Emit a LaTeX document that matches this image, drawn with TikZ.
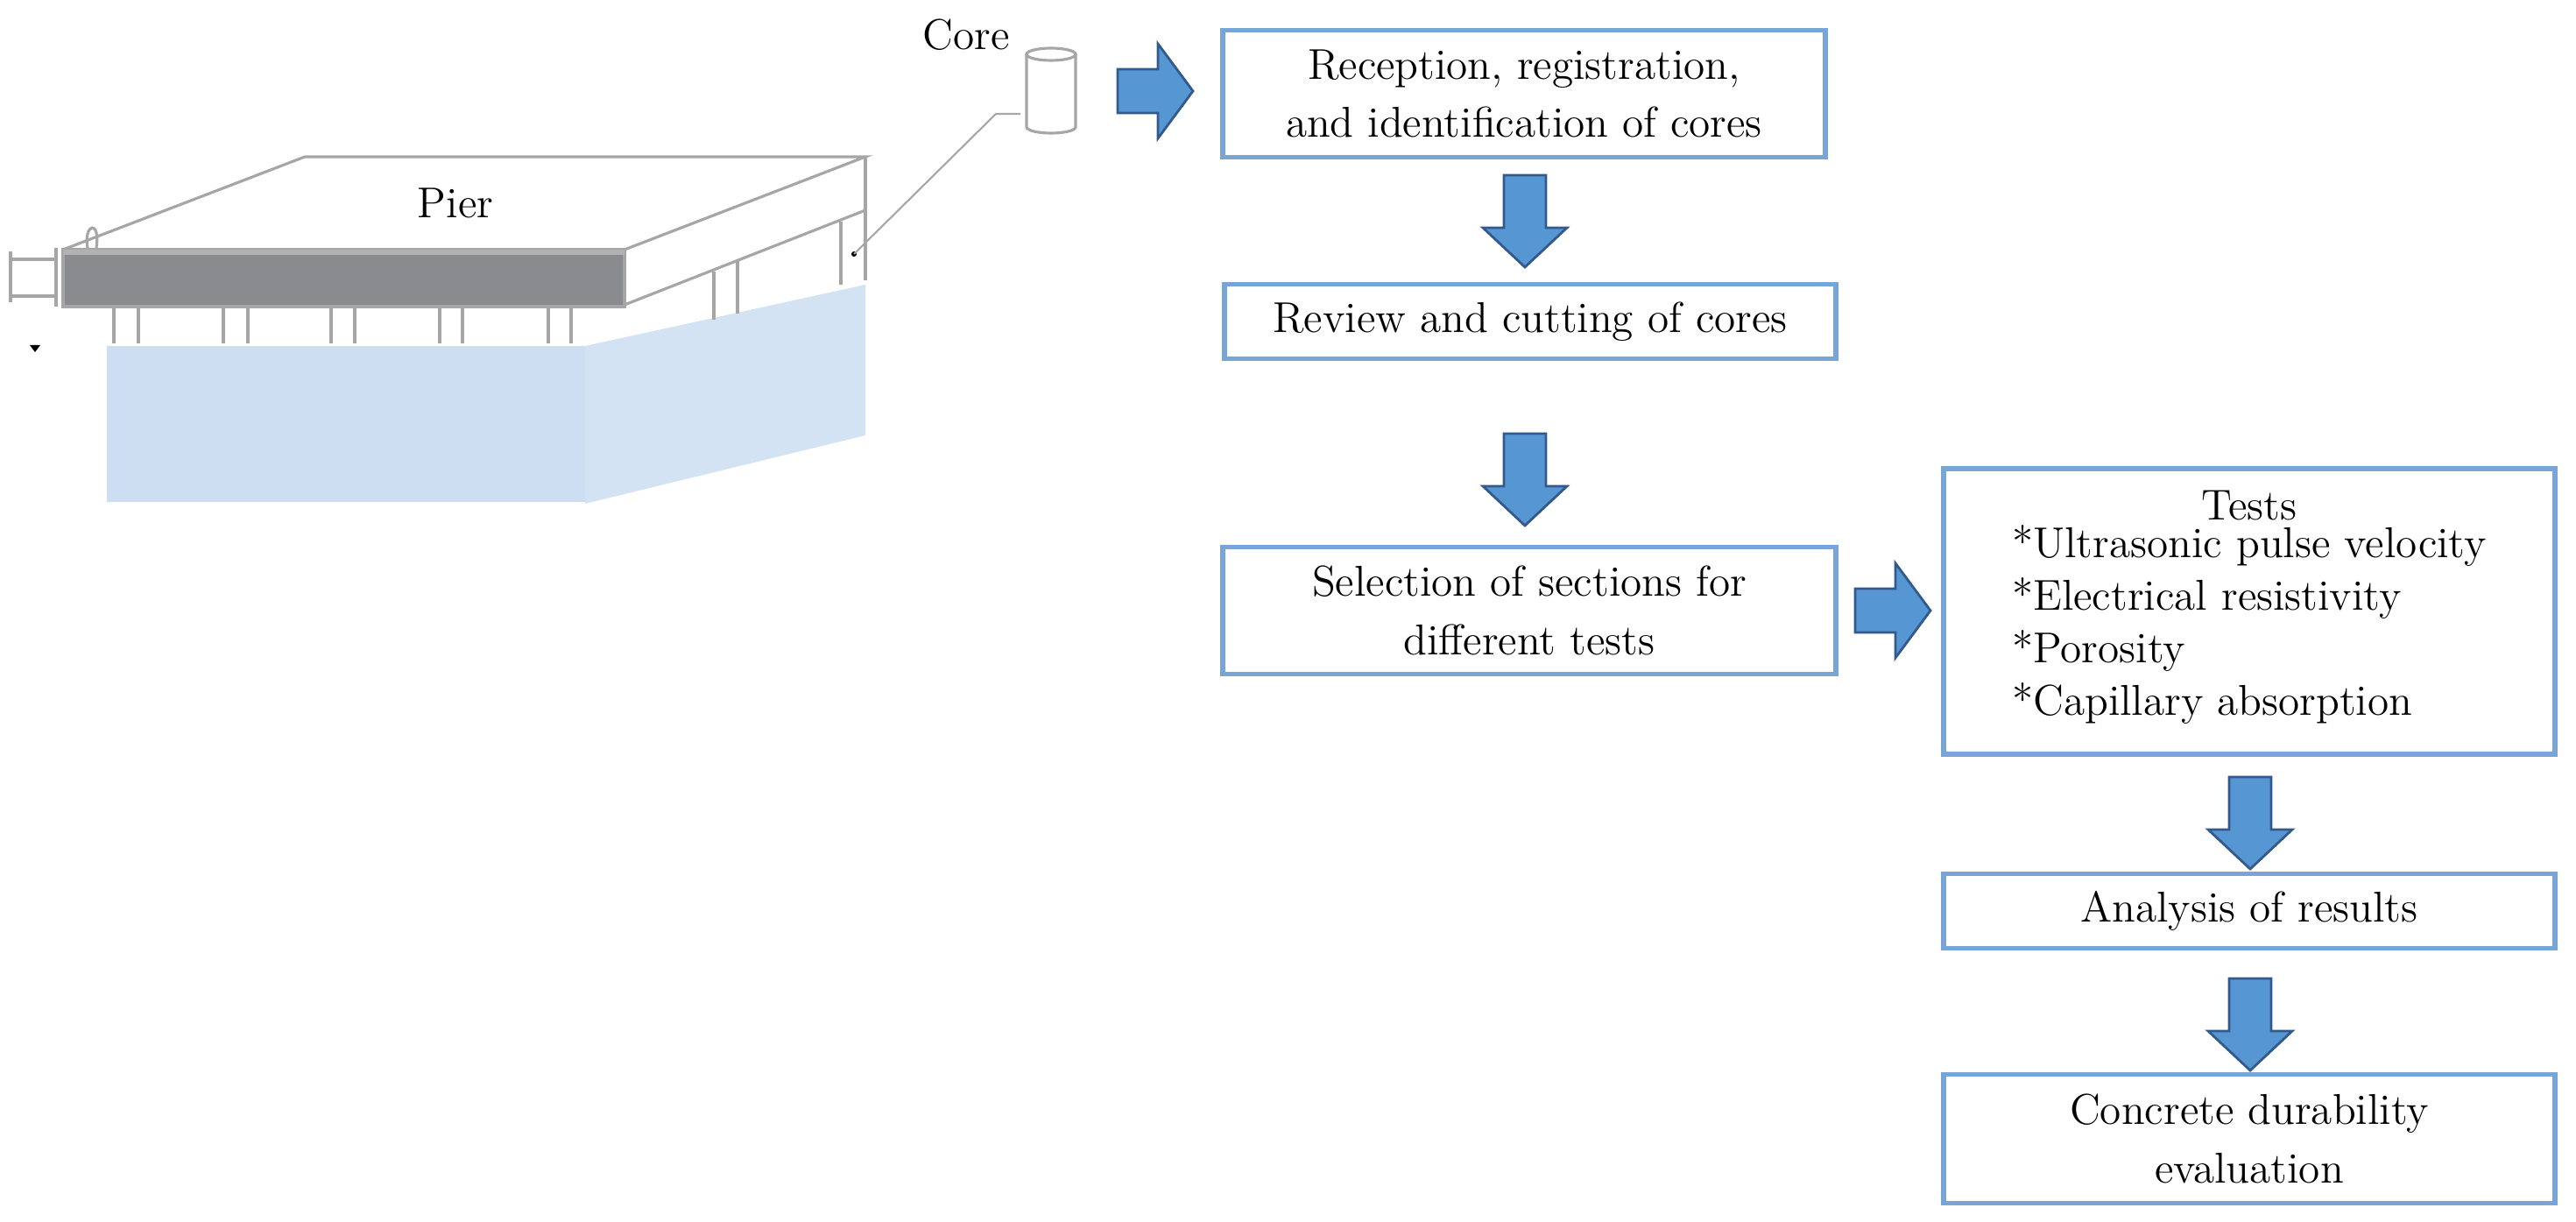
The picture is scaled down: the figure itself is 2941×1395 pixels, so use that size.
\documentclass[tikz,border=0pt]{standalone}
\usetikzlibrary{positioning,calc}
\definecolor{boxline}{RGB}{120,165,215}
\definecolor{arrowfill}{RGB}{86,150,210}
\definecolor{arrowline}{RGB}{50,90,140}
\definecolor{water}{RGB}{205,222,242}
\definecolor{deck}{RGB}{138,139,142}
\tikzset{
  stepbox/.style={draw=boxline, line width=1.6pt, align=center, inner sep=0pt,
    font=\fontsize{14}{19}\selectfont},
  pics/dnarrow/.style={code={
    \draw[fill=arrowfill, draw=arrowline, line width=0.8pt]
      (-24,0) -- (24,0) -- (24,60) -- (48,60) -- (0,105) -- (-48,60) -- (-24,60) -- cycle;}},
  pics/rtarrow/.style={code={
    \draw[fill=arrowfill, draw=arrowline, line width=0.8pt]
      (0,-25) -- (46,-25) -- (46,-54) -- (86,0) -- (46,54) -- (46,25) -- (0,25) -- cycle;}},
  pierline/.style={draw=gray!70, line width=0.9pt}
}
\begin{document}
\begin{tikzpicture}[x=0.01cm, y=-0.01cm]
\useasboundingbox (0,0) rectangle (2941,1395);

% pier sketch
\fill[water] (122,395) rectangle (668,573);
\fill[water!85] (668,395) -- (988,325) -- (988,497) -- (668,575) -- cycle;
\draw[pierline] (72,285) -- (348,179) -- (988,179) -- (713,285);
\draw[pierline] (988,179) -- (988,320);
\draw[pierline] (713,348) -- (988,240);
\draw[pierline, fill=deck] (72,285) rectangle (713,350);
\draw[gray!60, line width=1.5pt] (72,288) -- (713,288);
\foreach \x in {130,158,255,283,378,405,502,528,626,652}
  \draw[pierline] (\x,350) -- (\x,392);
\draw[pierline] (815,310) -- (815,365);
\draw[pierline] (842,298) -- (842,358);
\draw[pierline] (960,253) -- (960,325);
% end cap and hook
\draw[pierline] (12,287) -- (12,345);
\draw[pierline] (12,296) -- (64,296) (12,338) -- (64,338);
\draw[pierline] (64,283) -- (64,350);
\draw[pierline] (100,283) .. controls (95,255) and (115,250) .. (110,283);
\fill (34,394) -- (46,394) -- (40,402) -- cycle;
\node[font=\fontsize{14}{17}\selectfont] (pier) at (520,232) {Pier};

% core sample
\coordinate (spot) at (975,290);
\fill (spot) circle (0.03cm);
\draw[pierline] (1172,62) -- (1172,145) arc[start angle=180, end angle=360, x radius=0.28cm, y radius=0.07cm] -- (1228,62);
\draw[pierline] (1200,62) ellipse [x radius=0.28cm, y radius=0.07cm];
\coordinate (corefoot) at (1165,130);
\draw[gray!70, line width=0.6pt] (spot) -- (1137,130) -- (corefoot);
\node[font=\fontsize{14}{17}\selectfont] (core) at (1103,40) {Core};

% flow chart
\node[stepbox, minimum width=6.88cm, minimum height=1.45cm] (recept) at (1740,107) {Reception, registration,\\and identification of cores};
\node[stepbox, minimum width=6.98cm, minimum height=0.85cm] (review) at (1747,367) {Review and cutting of cores};
\node[stepbox, minimum width=7cm, minimum height=1.45cm] (select) at (1746,697) {Selection of sections for\\different tests};
\node[stepbox, minimum width=6.98cm, minimum height=3.26cm] (tests) at (2568,698) {Tests\\[-2pt]
  \begin{tabular}{@{}l@{}}*Ultrasonic pulse velocity\\[-2pt] *Electrical resistivity\\[-2pt] *Porosity\\[-2pt] *Capillary absorption\end{tabular}};
\node[stepbox, minimum width=6.98cm, minimum height=0.85cm] (analysis) at (2568,1040) {Analysis of results};
\node[stepbox, minimum width=6.98cm, minimum height=1.47cm] (durab) at (2568,1300) {Concrete durability\\evaluation};

\pic at (1276,104) {rtarrow};
\pic at (1741,200) {dnarrow};
\pic at (1741,495) {dnarrow};
\pic at (2118,697) {rtarrow};
\pic at (2569,887) {dnarrow};
\pic at (2569,1117) {dnarrow};

\end{tikzpicture}
\end{document}
